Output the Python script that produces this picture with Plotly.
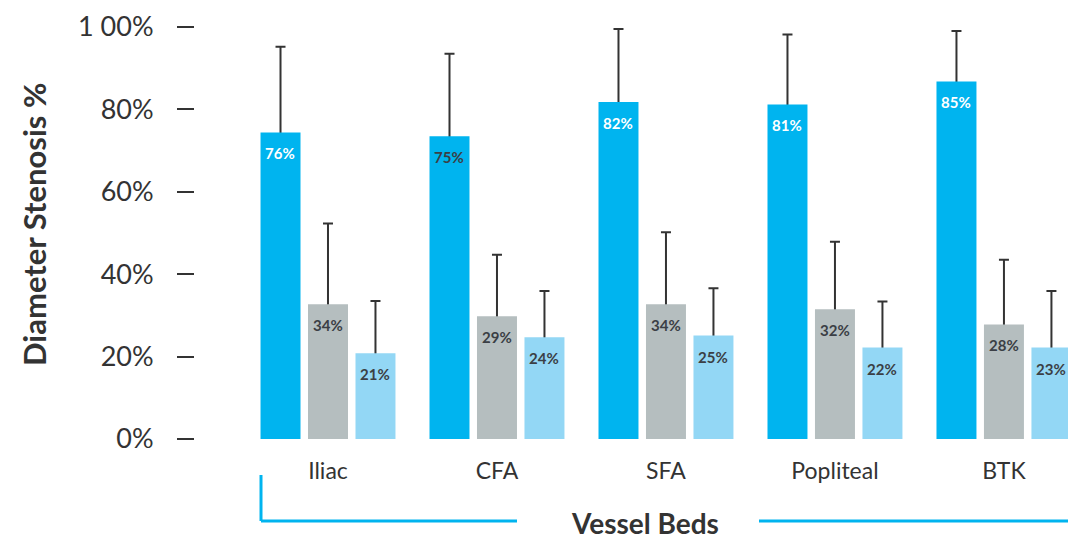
import plotly.graph_objects as go

# ---------------- data ----------------
categories = ["Iliac", "CFA", "SFA", "Popliteal", "BTK"]

values_a = [74.4, 73.5, 81.8, 81.2, 86.8]
values_b = [32.7, 29.8, 32.7, 31.5, 27.8]
values_c = [20.8, 24.7, 25.1, 22.2, 22.2]

upper_a = [95.2, 93.5, 99.5, 98.2, 99.0]
upper_b = [52.3, 44.7, 50.2, 47.9, 43.5]
upper_c = [33.5, 35.9, 36.6, 33.4, 35.9]

labels_a = ["76%", "75%", "82%", "81%", "85%"]
labels_b = ["34%", "29%", "34%", "32%", "28%"]
labels_c = ["21%", "24%", "25%", "22%", "23%"]

y_tickvals = [0, 20, 40, 60, 80, 100]
y_ticktext = ["0%", "20%", "40%", "60%", "80%", "1 00%"]

# ---------------- style ----------------
CYAN = "#00B4EF"
GRAY = "#B5BEBF"
LIGHT = "#93D7F5"
DARK = "#3B3F45"
TXT = "#333333"
FONT = "Lato"

series = [
    dict(vals=values_a, up=upper_a, labels=labels_a, color=CYAN,
         lcolors=["white", DARK, "white", "white", "white"], og="a"),
    dict(vals=values_b, up=upper_b, labels=labels_b, color=GRAY,
         lcolors=[DARK] * 5, og="b"),
    dict(vals=values_c, up=upper_c, labels=labels_c, color=LIGHT,
         lcolors=[DARK] * 5, og="c"),
]

fig = go.Figure()

# error-bar carriers (transparent bars) drawn first, so the real bars hide the lower cap
for s in series:
    err = [u - v for u, v in zip(s["up"], s["vals"])]
    fig.add_trace(go.Bar(
        x=categories, y=s["vals"], offsetgroup=s["og"],
        marker=dict(color="rgba(0,0,0,0)", line=dict(width=0)),
        error_y=dict(type="data", symmetric=False, array=err,
                     arrayminus=[1.5] * len(err),
                     color="#333333", thickness=2, width=5),
        showlegend=False, hoverinfo="skip"))

for s in series:
    fig.add_trace(go.Bar(
        x=categories, y=s["vals"], offsetgroup=s["og"],
        marker=dict(color=s["color"], line=dict(width=0)),
        showlegend=False))

offsets = [-47.5, 0, 47.5]
for k, s in enumerate(series):
    for i, cat in enumerate(categories):
        fig.add_annotation(
            x=cat, y=s["vals"][i], text=s["labels"][i],
            xshift=offsets[k], yshift=-21, showarrow=False,
            xanchor="center", yanchor="middle",
            font=dict(family=FONT, size=15, color=s["lcolors"][i], weight="bold"))

# axis titles
fig.add_annotation(
    xref="paper", yref="paper", x=(34 - 195) / 873, y=(439 - 225) / 412,
    text="<b>Diameter Stenosis %</b>", textangle=-90, showarrow=False,
    xanchor="center", yanchor="middle",
    font=dict(family=FONT, size=31, color=TXT))
fig.add_annotation(
    xref="paper", yref="paper", x=(645 - 195) / 873, y=(439 - 523) / 412,
    text="<b>Vessel Beds</b>", showarrow=False,
    xanchor="center", yanchor="middle",
    font=dict(family=FONT, size=28, color=TXT))

# bracket decoration
line_style = dict(color=CYAN, width=3)
def px(xp):
    return (xp - 195) / 873
def py(yp):
    return (439 - yp) / 412
fig.add_shape(type="line", xref="paper", yref="paper",
              x0=px(261), x1=px(261), y0=py(475), y1=py(521), line=line_style)
fig.add_shape(type="line", xref="paper", yref="paper",
              x0=px(261), x1=px(517), y0=py(521), y1=py(521), line=line_style)
fig.add_shape(type="line", xref="paper", yref="paper",
              x0=px(759), x1=1.0, y0=py(521), y1=py(521), line=line_style)

fig.update_layout(
    width=1068, height=540,
    margin=dict(l=195, r=0, t=27, b=101, pad=0),
    paper_bgcolor="white", plot_bgcolor="white",
    barmode="group", bargap=0.157, bargroupgap=0.158,
    font=dict(family=FONT, color=TXT),
    xaxis=dict(range=[-0.787, 4.379], showgrid=False, showline=False,
               zeroline=False, ticks="", ticklabelstandoff=16,
               tickfont=dict(family=FONT, size=23, color=TXT)),
    yaxis=dict(range=[0, 100], tickvals=y_tickvals, ticktext=y_ticktext,
               showgrid=False, showline=False, zeroline=False,
               ticks="outside", ticklen=17, tickwidth=2, tickcolor="#333333",
               ticklabelstandoff=18,
               tickfont=dict(family=FONT, size=27, color=TXT)),
)

fig.write_html("out.html", config={"displayModeBar": False},
               post_script="document.body.style.margin='0';document.body.style.overflow='hidden';")
